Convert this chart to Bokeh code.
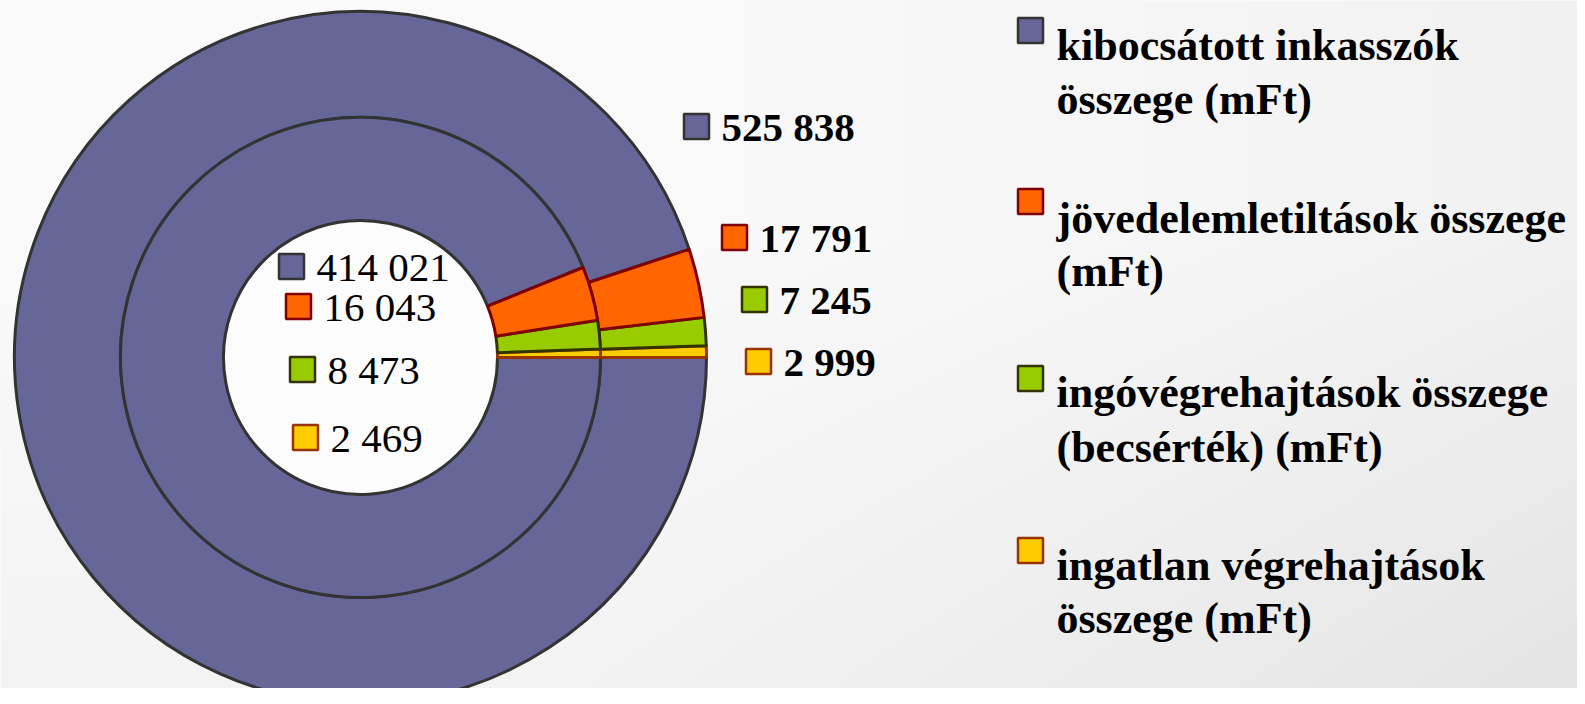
import math
import numpy as np
from bokeh.plotting import figure
from bokeh.models import Range1d
from bokeh.core.properties import value
from bokeh.embed import file_html
from bokeh.resources import INLINE

# ---- data ----
categories = ["kibocsátott inkasszók\nösszege (mFt)",
              "jövedelemletiltások összege\n(mFt)",
              "ingóvégrehajtások összege\n(becsérték) (mFt)",
              "ingatlan végrehajtások\nösszege (mFt)"]
inner_values = [414021, 16043, 8473, 2469]
outer_values = [525838, 17791, 7245, 2999]
fill_colors = ["#666699", "#FF6600", "#99CC00", "#FFCC00"]
line_colors = ["#333333", "#800000", "#333300", "#993300"]

# ---- layout (reference pixel coords; y measured from top) ----
W, H = 1577, 688
X0, Y0 = 0, 8
def Y(ry):
    return (H + Y0) - ry

CX, CY = 360, 357
R_OUT, R_MID, R_IN = 346, 240, 137

p = figure(width=W, height=H, output_backend="svg", toolbar_location=None,
           x_range=Range1d(X0, X0 + W), y_range=Range1d(Y0, Y0 + H),
           min_border=0, outline_line_color=None,
           background_fill_color="#f8f8f8", border_fill_color="#f8f8f8")
p.axis.visible = False
p.grid.visible = False

# faint background shading (lighter top-left, greyer bottom-right)
gh, gw = H // 4, W // 4
yy, xx = np.mgrid[0:gh, 0:gw]
fx = np.clip((xx / gw - 0.35) / 0.65, 0, 1)
fy = np.clip((1 - yy / gh - 0.35) / 0.65, 0, 1)  # row 0 is bottom
shade = (250 - 22 * (0.4 * fx + 0.6 * fy) * (0.5 + 0.5 * fx)).astype(np.uint32)
img = np.empty((gh, gw), dtype=np.uint32)
view = img.view(dtype=np.uint8).reshape((gh, gw, 4))
view[:, :, 0] = shade
view[:, :, 1] = shade
view[:, :, 2] = shade
view[:, :, 3] = 255
p.image_rgba(image=[img], x=X0, y=Y0, dw=W, dh=H)


def ring(values, r0, r1):
    total = float(sum(values))
    order = list(range(len(values)))[::-1]
    a = 0.0
    segs = {}
    for i in order:
        da = values[i] / total * 2 * math.pi
        segs[i] = (a, a + da)
        a += da
    for i in [0, 3, 2, 1]:
        s, e = segs[i]
        p.annular_wedge(x=CX, y=Y(CY), inner_radius=r0, outer_radius=r1,
                        start_angle=s, end_angle=e, direction="anticlock",
                        fill_color=fill_colors[i], line_color=line_colors[i],
                        line_width=3)

# white hole
p.circle(x=CX, y=Y(CY), radius=R_IN, fill_color="#fcfcfc", line_color=None)
ring(outer_values, R_MID, R_OUT)
ring(inner_values, R_IN, R_MID)


def fmt(v):
    return f"{v:,}".replace(",", " ")

inner_pos = [(278, 266), (285, 306), (289, 369), (292, 437)]
for i, (bx, cy) in enumerate(inner_pos):
    p.rect(x=bx + 13, y=Y(cy), width=25, height=25, fill_color=fill_colors[i],
           line_color=line_colors[i], line_width=2.5)
    p.text(x=bx + 38, y=Y(cy), text=[fmt(inner_values[i])],
           text_font=value("Liberation Serif"), text_font_size="41px",
           text_baseline="middle", text_align="left", text_color="#000000")

outer_pos = [(683, 126), (721, 237), (741, 299), (745, 361)]
for i, (bx, cy) in enumerate(outer_pos):
    p.rect(x=bx + 13, y=Y(cy), width=25, height=25, fill_color=fill_colors[i],
           line_color=line_colors[i], line_width=2.5)
    p.text(x=bx + 38, y=Y(cy), text=[fmt(outer_values[i])],
           text_font=value("Liberation Serif"), text_font_size="41px",
           text_font_style="bold",
           text_baseline="middle", text_align="left", text_color="#000000")

leg_box_y = [30, 201, 378, 550]
leg_base = [(45, 99), (218, 271), (392, 447), (565, 618)]
for i, name in enumerate(categories):
    p.rect(x=1030, y=Y(leg_box_y[i]), width=25, height=25,
           fill_color=fill_colors[i], line_color=line_colors[i], line_width=2.5)
    for j, line in enumerate(name.split("\n")):
        p.text(x=1056, y=Y(leg_base[i][j]), text=[line],
               text_font=value("Liberation Serif"), text_font_size="44px",
               text_font_style="bold",
               text_baseline="alphabetic", text_align="left", text_color="#000000")

open("out.html", "w").write(file_html(p, INLINE))
